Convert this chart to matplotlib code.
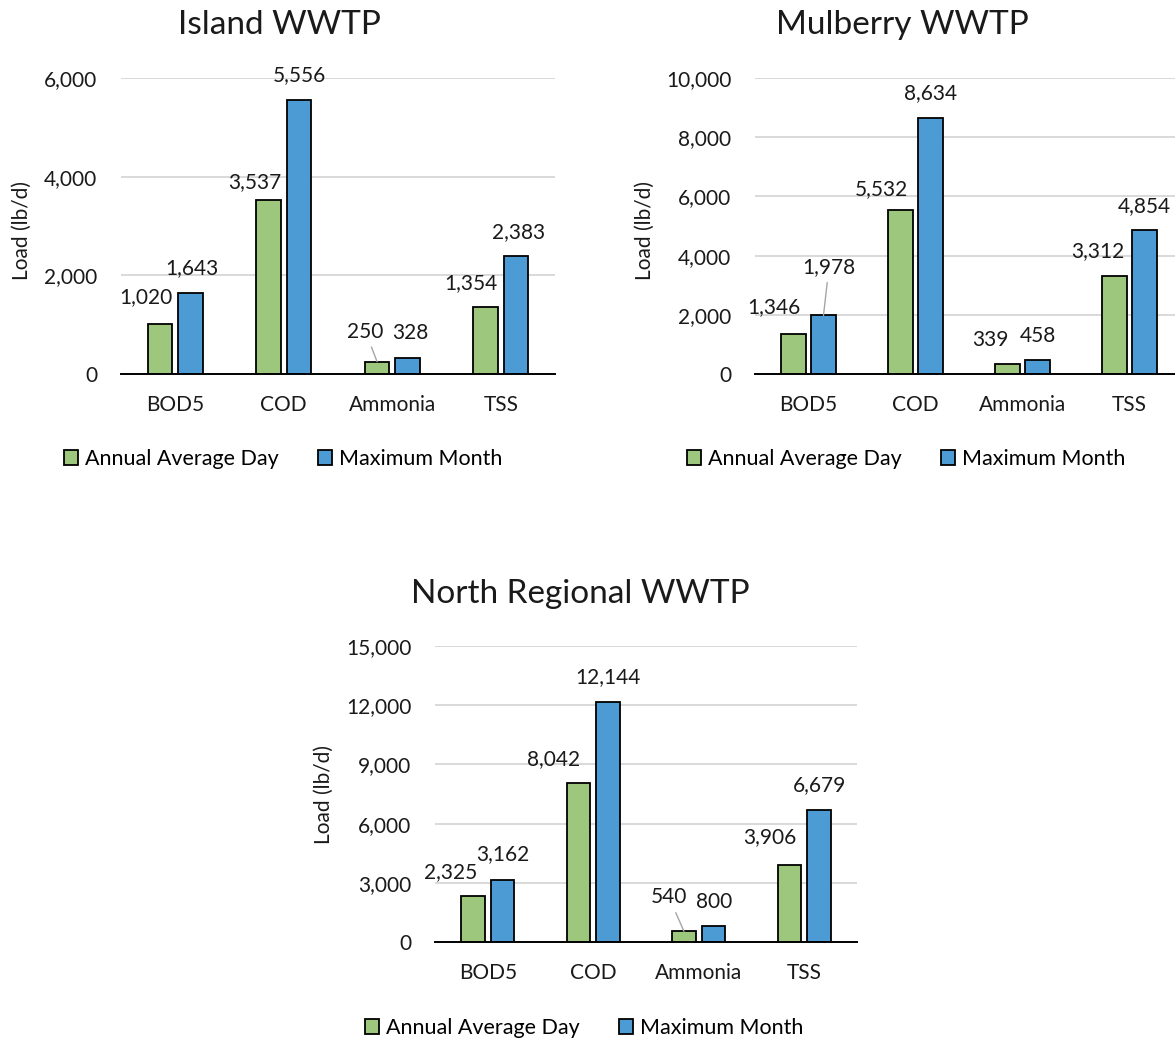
import numpy as np
import matplotlib
matplotlib.use('Agg')
import matplotlib.pyplot as plt
from matplotlib.patches import Patch

plt.rcParams['font.family'] = ['Lato', 'DejaVu Sans']

# Данные
kategorii = ['BOD5', 'COD', 'Ammonia', 'TSS']
serii = ['Annual Average Day', 'Maximum Month']

island_avg = [1020, 3537, 250, 1354]
island_max = [1643, 5556, 328, 2383]
mulberry_avg = [1346, 5532, 339, 3312]
mulberry_max = [1978, 8634, 458, 4854]
north_avg = [2325, 8042, 540, 3906]
north_max = [3162, 12144, 800, 6679]

ZELENY = '#9CC77C'
SINIY = '#4C9BD5'
W, H = 1175, 1039
FS = 15

def fx(px):
    return px / W

def fy(py):
    return 1 - py / H

# raspolozhenie paneley v pikselyah: levo, pravo, verh, niz
paneli = [
    dict(title='Island WWTP', avg=island_avg, mx=island_max,
         box=(121, 555, 78, 374), ymax=6000, step=2000,
         title_xy=(279, 25), ylab_xy=(22, 230), leg_xy=(283, 459),
         off_avg=[(-14, 27), (-13.5, 17.5), (-11.5, 30), (-14.5, 24)],
         off_max=[(1, 25), (0.5, 25), (2.5, 25), (2.5, 24)],
         lead_avg=[False, False, True, False], lead_max=[False] * 4),
    dict(title='Mulberry WWTP', avg=mulberry_avg, mx=mulberry_max,
         box=(755, 1183, 78, 374), ymax=10000, step=2000,
         title_xy=(902, 25), ylab_xy=(645, 230), leg_xy=(906, 459),
         off_avg=[(-19.5, 27), (-19.5, 21), (-17, 24), (-17, 25)],
         off_max=[(5.5, 48.5), (0, 25), (0, 24), (0, 24)],
         lead_avg=[False] * 4, lead_max=[True, False, False, False]),
    dict(title='North Regional WWTP', avg=north_avg, mx=north_max,
         box=(435, 857, 646, 942), ymax=15000, step=3000,
         title_xy=(580, 594), ylab_xy=(324, 795), leg_xy=(584, 1028),
         off_avg=[(-22.5, 24), (-25, 24), (-15, 34), (-19.5, 28)],
         off_max=[(0.5, 25.6), (0, 25.7), (0.5, 24.5), (0.6, 25)],
         lead_avg=[False, False, True, False], lead_max=[False] * 4),
]

fig = plt.figure(figsize=(W / 100, H / 100), dpi=100)

shirina = 0.225
sdvig = 0.14
x = np.arange(len(kategorii))

for p in paneli:
    l, r, t, b = p['box']
    ax = fig.add_axes([fx(l), fy(b), (r - l) / W, (b - t) / H])
    bars_a = ax.bar(x - sdvig, p['avg'], shirina, color=ZELENY, edgecolor='black', linewidth=1.3, zorder=3)
    bars_m = ax.bar(x + sdvig, p['mx'], shirina, color=SINIY, edgecolor='black', linewidth=1.3, zorder=3)

    for bars, vals, offs, leads in [(bars_a, p['avg'], p['off_avg'], p['lead_avg']),
                                    (bars_m, p['mx'], p['off_max'], p['lead_max'])]:
        for bar, v, (dx, dy), lead in zip(bars, vals, offs, leads):
            kw = {}
            if lead:
                kw['arrowprops'] = dict(arrowstyle='-', color='#A6A6A6', lw=1.0, shrinkA=2, shrinkB=0)
            ax.annotate(f'{v:,}', xy=(bar.get_x() + bar.get_width() / 2, v),
                        xytext=(dx, dy), textcoords='offset pixels',
                        ha='center', va='center', fontsize=FS, color='#1A1A1A', **kw)

    ax.set_xlim(-0.5, len(kategorii) - 0.5)
    ax.set_ylim(0, p['ymax'])
    tiki = np.arange(0, p['ymax'] + 1, p['step'])
    ax.set_yticks(tiki)
    ax.set_yticklabels([f'{int(v):,}' for v in tiki])
    ax.set_xticks(x)
    ax.set_xticklabels(kategorii)
    ax.tick_params(axis='y', length=0, pad=17, labelsize=FS, labelcolor='#1A1A1A')
    ax.tick_params(axis='x', length=0, pad=15, labelsize=FS, labelcolor='#1A1A1A')
    for s in ['left', 'right', 'top']:
        ax.spines[s].set_visible(False)
    ax.spines['bottom'].set_linewidth(1.4)
    ax.spines['bottom'].set_zorder(4)
    ax.yaxis.grid(True, color='#D9D9D9', linewidth=1.4)
    ax.set_axisbelow(True)

    fig.text(fx(p['title_xy'][0]), fy(p['title_xy'][1]), p['title'],
             ha='center', va='center', fontsize=24, color='#1A1A1A')
    fig.text(fx(p['ylab_xy'][0]), fy(p['ylab_xy'][1]), 'Load (lb/d)',
             ha='center', va='center', rotation=90, fontsize=FS, color='#1A1A1A')

    ruchki = [Patch(facecolor=ZELENY, edgecolor='black', linewidth=1.3, label=serii[0]),
              Patch(facecolor=SINIY, edgecolor='black', linewidth=1.3, label=serii[1])]
    fig.legend(handles=ruchki, loc='center', bbox_to_anchor=(fx(p['leg_xy'][0]), fy(p['leg_xy'][1])),
               ncol=2, frameon=False, fontsize=15.5, handlelength=0.65, handleheight=0.65,
               handletextpad=0.35, columnspacing=1.8, borderpad=0, borderaxespad=0)

fig.savefig('out.png', dpi=100)
